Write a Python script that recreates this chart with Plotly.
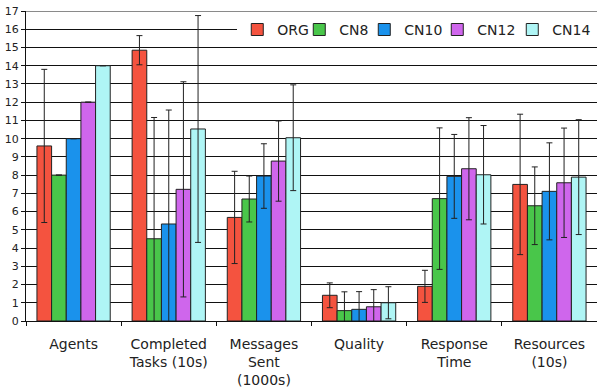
import plotly.graph_objects as go

categories = ["Agents", "Completed<br>Tasks (10s)", "Messages<br>Sent<br>(1000s)",
              "Quality", "Response<br>Time", "Resources<br>(10s)"]
series_names = ["ORG", "CN8", "CN10", "CN12", "CN14"]

org_vals = [9.6, 14.85, 5.68, 1.41, 1.90, 7.49]
org_err = [4.2, 0.8, 2.53, 0.68, 0.88, 3.85]
cn8_vals = [8.0, 4.51, 6.69, 0.57, 6.71, 6.32]
cn8_err = [0.0, 6.65, 1.26, 1.03, 3.88, 2.13]
cn10_vals = [10.0, 5.32, 7.95, 0.64, 7.93, 7.11]
cn10_err = [0.0, 6.25, 1.77, 0.97, 2.30, 2.66]
cn12_vals = [12.0, 7.22, 8.77, 0.78, 8.35, 7.58]
cn12_err = [0.0, 5.90, 2.20, 0.94, 2.80, 3.00]
cn14_vals = [14.0, 10.53, 10.05, 1.00, 8.02, 7.89]
cn14_err = [0.0, 6.22, 2.90, 0.88, 2.70, 3.15]

y_ticks = list(range(0, 18))

values = [org_vals, cn8_vals, cn10_vals, cn12_vals, cn14_vals]
errors = [org_err, cn8_err, cn10_err, cn12_err, cn14_err]
colors = ["#F4533F", "#49C64A", "#1A92EC", "#CF66EC", "#AFF5F5"]
legend_widths = [17, 20, 28, 30, 40]

FONT = "DejaVu Sans"

fig = go.Figure()
for name, v, e, c, lw in zip(series_names, values, errors, colors, legend_widths):
    fig.add_trace(go.Bar(
        name=name, x=categories, y=v,
        marker=dict(color=c, line=dict(color="#222222", width=1)),
        error_y=dict(type="data", array=e, visible=True, color="#222222",
                     thickness=1, width=3),
        legendwidth=lw,
    ))

fig.update_layout(
    width=597, height=389,
    margin=dict(l=26, r=0, t=11, b=68, autoexpand=False),
    paper_bgcolor="white", plot_bgcolor="white",
    barmode="group", bargap=0.23, bargroupgap=0,
    font=dict(family=FONT, color="#222222"),
    showlegend=True,
    legend=dict(orientation="h", x=0.37, xanchor="left", y=0.939, yanchor="middle",
                bgcolor="white", font=dict(size=14, family=FONT, color="#222222"),
                borderwidth=0),
    shapes=[dict(type="line", xref="paper", yref="y", x0=0, x1=1, y0=17, y1=17,
                 line=dict(color="#8a8a8a", width=2), layer="above")],
)
fig.update_xaxes(
    showgrid=False, showline=True, linecolor="#111111", linewidth=1,
    ticks="outside", tickson="boundaries", ticklen=4, tickcolor="#111111",
    tickfont=dict(size=14, family=FONT, color="#222222"),
    ticklabelstandoff=10, automargin=False,
)
fig.update_yaxes(
    range=[0, 17], tickvals=y_ticks, showgrid=True, gridcolor="#111111", gridwidth=1,
    showline=True, linecolor="#111111", linewidth=1, ticks="outside", ticklen=4,
    tickcolor="#111111", tickfont=dict(size=11, family=FONT, color="#222222"),
    zeroline=False, automargin=False,
)

fig.write_html("out.html", config={"displayModeBar": False},
               post_script="document.body.style.margin='0px';")
